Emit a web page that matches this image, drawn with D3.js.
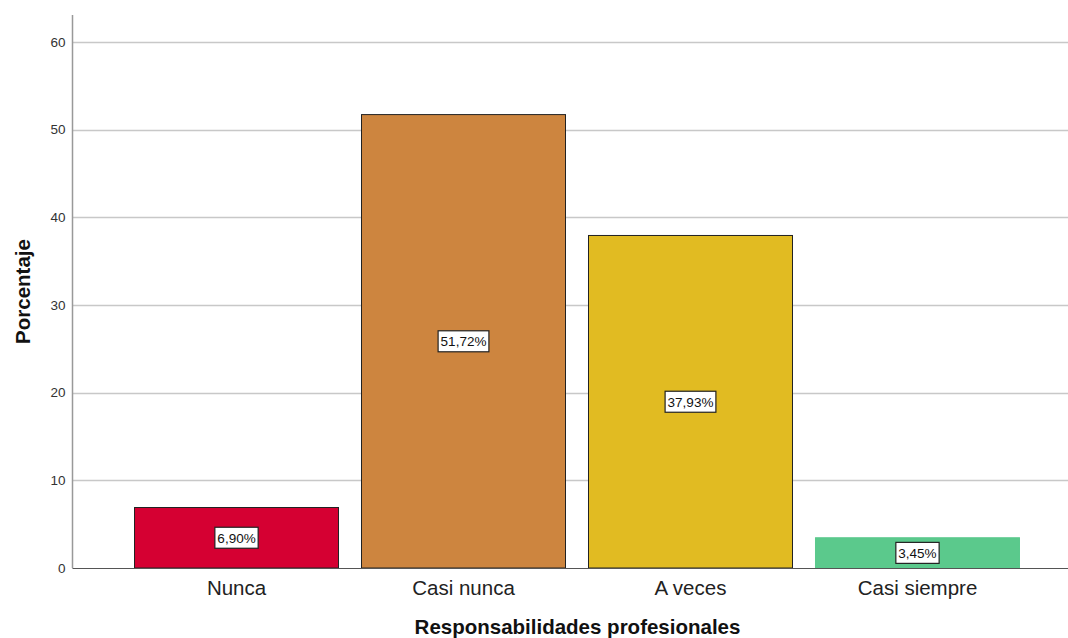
<!DOCTYPE html>
<html>
<head>
<meta charset="utf-8">
<script src="https://cdn.jsdelivr.net/npm/d3@7"></script>
<style>
  html, body { margin: 0; padding: 0; background: #fff; }
  svg { display: block; font-family: "Liberation Sans", Arial, sans-serif; }
</style>
</head>
<body>
<svg id="chart" width="1068" height="638"></svg>
<script>
// Responsabilidades profesionales — porcentaje por categoría
const categories = ["Nunca", "Casi nunca", "A veces", "Casi siempre"];
const percentages = [6.90, 51.72, 37.93, 3.45];
const barColors = ["#d50032", "#cd853f", "#e1bb22", "#5bc98c"];
const yTicks = [0, 10, 20, 30, 40, 50, 60];
const xTitle = "Responsabilidades profesionales";
const yTitle = "Porcentaje";

const svg = d3.select("#chart");
const W = 1068;
const plotLeft = 73, plotBottom = 568, plotTop = 15;

const y = d3.scaleLinear().domain([0, 60]).range([plotBottom, 42]);
const x = d3.scaleBand()
  .domain(categories)
  .range([plotLeft, 1081])
  .paddingInner(0.1013)
  .paddingOuter(0.271);

// horizontal gridlines
svg.append("g")
  .selectAll("line")
  .data(yTicks.filter(d => d > 0))
  .join("line")
  .attr("x1", plotLeft).attr("x2", W)
  .attr("y1", d => Math.round(y(d)) + 0.5).attr("y2", d => Math.round(y(d)) + 0.5)
  .attr("stroke", "#c8c8c8")
  .attr("stroke-width", 1.5);

// y axis
const yAxis = svg.append("g")
  .attr("transform", `translate(${plotLeft - 0.5},0)`)
  .call(d3.axisLeft(y).tickValues(yTicks).tickSize(0).tickPadding(7));
yAxis.select(".domain").remove();
yAxis.selectAll("text")
  .attr("font-size", 13.5)
  .attr("fill", "#333")
  .attr("font-family", "Liberation Sans, Arial, sans-serif");
svg.append("line")
  .attr("x1", plotLeft - 0.5).attr("x2", plotLeft - 0.5)
  .attr("y1", plotTop).attr("y2", plotBottom)
  .attr("stroke", "#999").attr("stroke-width", 1.5);

// bars
svg.append("g")
  .selectAll("rect")
  .data(categories.map((c, i) => ({ c, v: percentages[i], col: barColors[i], i })))
  .join("rect")
  .attr("x", d => x(d.c))
  .attr("y", d => y(d.v))
  .attr("width", x.bandwidth())
  .attr("height", d => y(0) - y(d.v))
  .attr("fill", d => d.col)
  .attr("stroke", d => d.i === 3 ? d.col : "#222")
  .attr("stroke-width", 1);

// x axis baseline
svg.append("line")
  .attr("x1", plotLeft - 0.5).attr("x2", W)
  .attr("y1", plotBottom + 0.5).attr("y2", plotBottom + 0.5)
  .attr("stroke", "#555").attr("stroke-width", 1.2);

// category labels
const xAxis = svg.append("g")
  .attr("transform", `translate(0,${plotBottom})`)
  .call(d3.axisBottom(x).tickSize(0).tickPadding(12));
xAxis.select(".domain").remove();
xAxis.selectAll("text")
  .attr("font-size", 20.5)
  .attr("fill", "#222")
  .attr("font-family", "Liberation Sans, Arial, sans-serif");

// value labels in boxes
const fmt = v => v.toFixed(2).replace(".", ",") + "%";
const lab = svg.append("g")
  .selectAll("g")
  .data(categories.map((c, i) => ({ c, v: percentages[i] })))
  .join("g")
  .attr("transform", d => `translate(${x(d.c) + x.bandwidth() / 2},${y(d.v / 2)})`);
lab.append("text")
  .attr("text-anchor", "middle")
  .attr("dy", "0.36em")
  .attr("font-size", 13.5)
  .attr("fill", "#111")
  .text(d => fmt(d.v))
  .each(function () {
    const b = this.getBBox();
    d3.select(this.parentNode).insert("rect", "text")
      .attr("x", b.x - 2.5).attr("y", -10.5)
      .attr("width", b.width + 5).attr("height", 21)
      .attr("fill", "#fff")
      .attr("stroke", "#222").attr("stroke-width", 1.2);
  });

// axis titles
svg.append("text")
  .attr("x", (plotLeft + W) / 2 + 7)
  .attr("y", 634)
  .attr("text-anchor", "middle")
  .attr("font-size", 20.5)
  .attr("font-weight", "bold")
  .attr("fill", "#111")
  .text(xTitle);
svg.append("text")
  .attr("transform", `translate(30,${(plotTop + plotBottom) / 2}) rotate(-90)`)
  .attr("text-anchor", "middle")
  .attr("font-size", 20.5)
  .attr("font-weight", "bold")
  .attr("fill", "#111")
  .text(yTitle);
</script>
</body>
</html>
